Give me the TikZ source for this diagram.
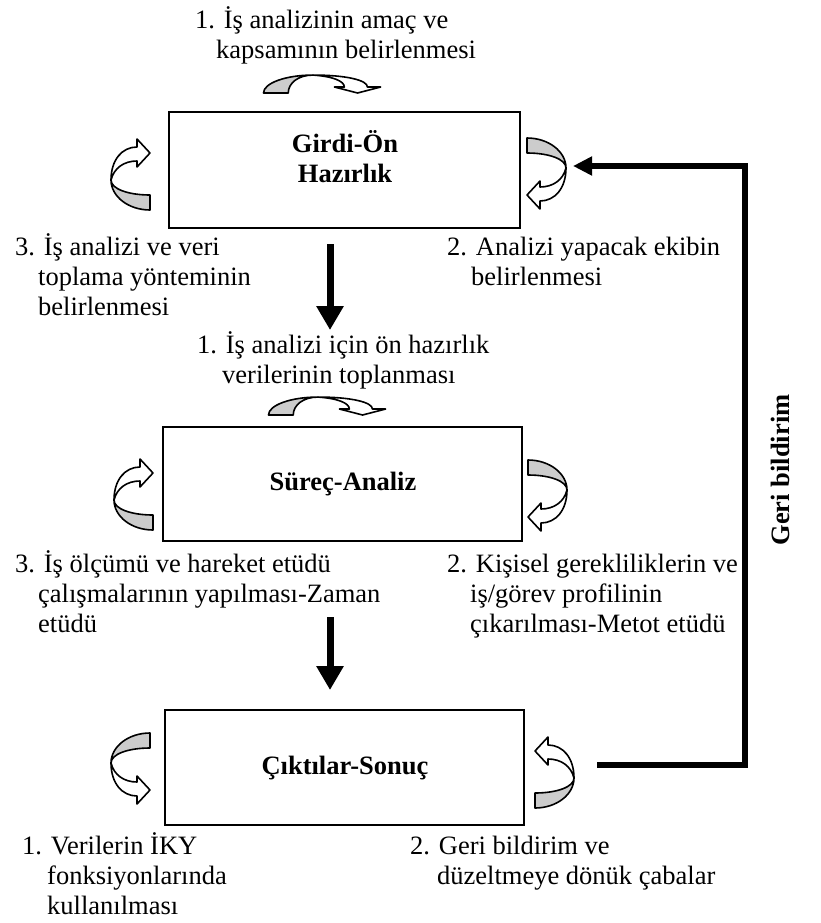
\documentclass[tikz,border=0pt]{standalone}
\usepackage{fontspec}
\setmainfont{Liberation Serif}
\usetikzlibrary{arrows.meta}
\newcommand{\myribbon}[1]{%
  \begin{scope}[#1]
    \draw[ribbonline, fill=gray!40] (0,30) .. controls (-21.5,30) and (-39,16.5) .. (-39,0)
      .. controls (-39,9) and (-21.5,15) .. (0,15) -- cycle;
    \draw[ribbonline, fill=white] (-39,0) .. controls (-39,-20) and (-28,-33) .. (-13,-33)
      -- (-13,-41) -- (0,-27) -- (-13,-13) -- (-13,-19)
      .. controls (-26,-19) and (-36,-12) .. (-39,0) -- cycle;
  \end{scope}}
\tikzset{
  ribbonline/.style={line width=1.6bp, line join=round},
  boxnode/.style={draw, line width=2.4bp, inner sep=0pt},
  txt/.style={anchor=north west, inner sep=0pt, align=left, font=\fontsize{26.5bp}{30bp}\selectfont},
  boxtxt/.style={inner sep=0pt, align=center, font=\fontsize{26.5bp}{30bp}\selectfont\bfseries},
  downarrow/.style={line width=7bp, -{Triangle[length=24bp,width=26bp]}},
  fbarrow/.style={line width=6bp, line join=miter, -{Triangle[length=19bp,width=18bp]}}
}
\begin{document}
\begin{tikzpicture}[x=1bp, y=-1bp]
\useasboundingbox (0,0) rectangle (821,923);

% boxes
\node[boxnode, minimum width=351bp, minimum height=116bp] (b1) at (344.5,170) {};
\node[boxnode, minimum width=359bp, minimum height=114bp] (b2) at (342.5,484) {};
\node[boxnode, minimum width=359bp, minimum height=115bp] (b3) at (344.5,767.5) {};

% box labels
\node[boxtxt, anchor=north] (l1) at (345,127) {\rule{0pt}{25bp}Girdi-Ön\\Hazırlık};
\node[boxtxt, anchor=base] (l2) at (343,490) {Süreç-Analiz};
\node[boxtxt, anchor=base] (l3) at (345,774) {Çıktılar-Sonuç};

% texts
\node[txt] (t1) at (195,3) {\rule{0pt}{25bp}1. İş analizinin amaç ve\\\hspace*{21bp}kapsamının belirlenmesi};
\node[txt] (t2) at (15,230) {\rule{0pt}{25bp}3. İş analizi ve veri\\\hspace*{23bp}toplama yönteminin\\\hspace*{23bp}belirlenmesi};
\node[txt] (t3) at (447,230) {\rule{0pt}{25bp}2. Analizi yapacak ekibin\\\hspace*{24bp}belirlenmesi};
\node[txt] (t4) at (197,328) {\rule{0pt}{25bp}1. İş analizi için ön hazırlık\\\hspace*{25bp}verilerinin toplanması};
\node[txt] (t5) at (15,547) {\rule{0pt}{25bp}3. İş ölçümü ve hareket etüdü\\\hspace*{23bp}çalışmalarının yapılması-Zaman\\\hspace*{23bp}etüdü};
\node[txt] (t6) at (447,547) {\rule{0pt}{25bp}2. Kişisel gerekliliklerin ve\\\hspace*{23bp}iş/görev profilinin\\\hspace*{23bp}çıkarılması-Metot etüdü};
\node[txt] (t7) at (22,829) {\rule{0pt}{25bp}1. Verilerin İKY\\\hspace*{25bp}fonksiyonlarında\\\hspace*{25bp}kullanılması};
\node[txt] (t8) at (410,829) {\rule{0pt}{25bp}2. Geri bildirim ve\\\hspace*{27bp}düzeltmeye dönük çabalar};

\node[boxtxt, rotate=90] (gb) at (780,470) {Geri bildirim};

% curved ribbon arrows
\myribbon{shift={(313,93)}, xscale=1.65, yscale=0.46, rotate=-90}
\myribbon{shift={(150,180)}}
\myribbon{shift={(527,168)}, rotate=180}
\myribbon{shift={(318,415)}, xscale=1.65, yscale=0.46, rotate=-90}
\myribbon{shift={(153,500)}}
\myribbon{shift={(528,490)}, rotate=180}
\myribbon{shift={(150,763)}, yscale=-1}
\myribbon{shift={(535,778)}, xscale=-1}

% down arrows
\coordinate (d1s) at (330,244);
\coordinate (d1e) at (330,330);
\coordinate (d2s) at (330,617);
\coordinate (d2e) at (330,690);
\draw[downarrow] (d1s) -- (d1e);
\draw[downarrow] (d2s) -- (d2e);

% feedback
\coordinate (fbs) at (597,765);
\coordinate (fbc1) at (745,765);
\coordinate (fbc2) at (745,166);
\coordinate (fbe) at (573,166);
\draw[fbarrow] (fbs) -- (fbc1) -- (fbc2) -- (fbe);
\end{tikzpicture}
\end{document}
